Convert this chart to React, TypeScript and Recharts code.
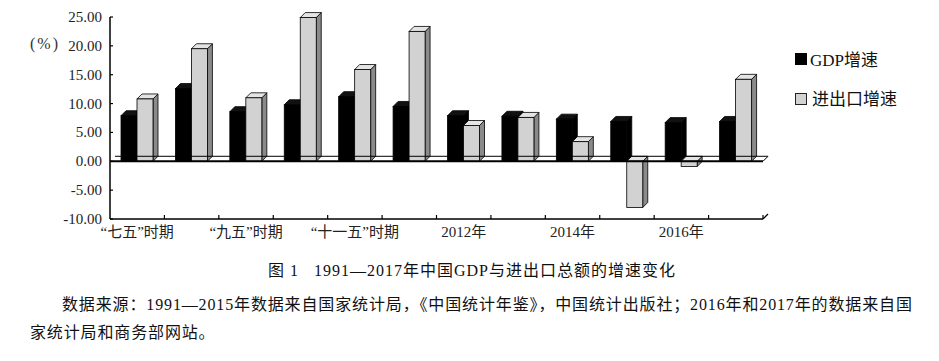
import React from 'react';
import { BarChart, Bar, XAxis, YAxis, ReferenceLine } from 'recharts';

const categories = ['“七五”时期', '“八五”时期', '“九五”时期', '“十五”时期', '“十一五”时期', '2011年', '2012年', '2013年', '2014年', '2015年', '2016年', '2017年'];
const gdpGrowth = [7.9, 12.6, 8.6, 9.8, 11.2, 9.5, 7.9, 7.8, 7.3, 6.9, 6.7, 6.9];
const tradeGrowth = [10.8, 19.5, 11.0, 24.9, 15.9, 22.5, 6.2, 7.6, 3.4, -8.0, -0.9, 14.2];
const yTicks = [-10, -5, 0, 5, 10, 15, 20, 25];
const seriesNames = ['GDP增速', '进出口增速'];

const data = categories.map((c, i) => ({ category: c, gdp: gdpGrowth[i], trade: tradeGrowth[i] }));

const W = 939;
const CHART_H = 250;
const MARGIN = { top: 17, right: 176, left: 50, bottom: 11 };
const Y_AXIS_W = 60;
const PLOT_W = W - MARGIN.left - MARGIN.right - Y_AXIS_W;
const BAND = PLOT_W / categories.length;
const DEPTH = 5;
const FONT = '"Liberation Serif", "Times New Roman", "Noto Sans CJK SC", serif';

function Bar3D(props: any) {
  let { x, y, width, height } = props;
  const { face, top, side } = props;
  if (width == null || height == null) return null;
  if (height < 0) {
    y = y + height;
    height = -height;
  }
  const d = DEPTH;
  const topPts = `${x},${y} ${x + d},${y - d} ${x + width + d},${y - d} ${x + width},${y}`;
  const sidePts = `${x + width},${y} ${x + width + d},${y - d} ${x + width + d},${y + height - d} ${x + width},${y + height}`;
  return (
    <g>
      <polygon points={sidePts} fill={side} stroke="#000" strokeWidth={0.8} strokeLinejoin="round" />
      <polygon points={topPts} fill={top} stroke="#000" strokeWidth={0.8} strokeLinejoin="round" />
      <rect x={x} y={y} width={width} height={height} fill={face} stroke="#000" strokeWidth={0.8} />
    </g>
  );
}

function XTick(props: any) {
  const { x, y, payload, index } = props;
  const half = BAND / 2;
  return (
    <g>
      <line x1={x + half} y1={y - 4} x2={x + half} y2={y} stroke="#000" strokeWidth={1.2} />
      {index % 2 === 0 ? (
        <text x={x} y={y + 18} textAnchor="middle" fontSize={15} fontFamily={FONT} fill="#222">
          {payload.value}
        </text>
      ) : null}
    </g>
  );
}

function YTick(props: any) {
  const { x, y, payload } = props;
  return (
    <g>
      <line x1={x + 8} y1={y} x2={x + 11} y2={y} stroke="#000" strokeWidth={1.2} />
      <text x={x} y={y + 5} textAnchor="end" fontSize={15} fontFamily={FONT} fill="#222">
        {Number(payload.value).toFixed(2)}
      </text>
    </g>
  );
}

function FloorShape(props: any) {
  const { x1, y1, x2, y2 } = props;
  const d = DEPTH;
  return (
    <g>
      <line x1={x1 + d} y1={y1 - d} x2={x2 + d} y2={y2 - d} stroke="#000" strokeWidth={1} />
      <line x1={x2} y1={y2} x2={x2 + d} y2={y2 - d} stroke="#000" strokeWidth={1} />
      <line x1={x1} y1={y1} x2={x2} y2={y2} stroke="#000" strokeWidth={2} />
    </g>
  );
}

function BottomEnd(props: any) {
  const { x2, y2 } = props;
  const d = DEPTH;
  return <line x1={x2} y1={y2} x2={x2 + d} y2={y2 - d} stroke="#000" strokeWidth={1.2} />;
}

export default function App() {
  return (
    <div style={{ position: 'absolute', left: 0, top: 0, width: W, height: 361, background: '#fff', overflow: 'hidden' }}>
      <BarChart
        width={W}
        height={CHART_H}
        data={data}
        margin={MARGIN}
        barGap={0}
        barSize={16}
      >
        <XAxis
          dataKey="category"
          interval={0}
          tick={<XTick />}
          tickLine={false}
          tickSize={0}
          tickMargin={0}
          height={20}
          axisLine={{ stroke: '#000', strokeWidth: 1.5 }}
        />
        <YAxis
          domain={[-10, 25]}
          ticks={yTicks}
          interval={0}
          width={Y_AXIS_W}
          tick={<YTick />}
          tickLine={false}
          tickSize={0}
          tickMargin={8}
          axisLine={{ stroke: '#000', strokeWidth: 1.5 }}
        />
        <ReferenceLine y={0} shape={(p: any) => <FloorShape {...p} />} />
        <ReferenceLine y={-10} shape={(p: any) => <BottomEnd {...p} />} />
        <Bar
          dataKey="gdp"
          name={seriesNames[0]}
          isAnimationActive={false}
          shape={(p: any) => <Bar3D {...p} face="#000" top="#111" side="#000" />}
        />
        <Bar
          dataKey="trade"
          name={seriesNames[1]}
          isAnimationActive={false}
          shape={(p: any) => <Bar3D {...p} face="#d2d2d2" top="#e4e4e4" side="#8a8a8a" />}
        />
      </BarChart>

      <div style={{ position: 'absolute', left: 30, top: 35, fontFamily: FONT, fontSize: 16, color: '#333', letterSpacing: 2 }}>
        (%)
      </div>

      <div style={{ position: 'absolute', left: 795, top: 53, width: 12, height: 12, background: '#000' }} />
      <div style={{ position: 'absolute', left: 810, top: 49, fontFamily: FONT, fontSize: 17, color: '#111', lineHeight: '24px' }}>
        {seriesNames[0]}
      </div>
      <div style={{ position: 'absolute', left: 795, top: 93, width: 10, height: 10, background: '#d2d2d2', border: '1.5px solid #222' }} />
      <div style={{ position: 'absolute', left: 812, top: 88, fontFamily: FONT, fontSize: 17, color: '#111', lineHeight: '24px' }}>
        {seriesNames[1]}
      </div>

      <div style={{ position: 'absolute', left: 268, top: 260, whiteSpace: 'nowrap', fontFamily: FONT, fontSize: 16, color: '#111', lineHeight: '22px', letterSpacing: 1.0 }}>
        图 1&nbsp;&nbsp;&nbsp;1991—2017年中国GDP与进出口总额的增速变化
      </div>
      <div style={{ position: 'absolute', left: 62, top: 294, whiteSpace: 'nowrap', fontFamily: FONT, fontSize: 16, color: '#111', lineHeight: '22px', letterSpacing: 0.86 }}>
        数据来源：1991—2015年数据来自国家统计局，《中国统计年鉴》，中国统计出版社；2016年和2017年的数据来自国
      </div>
      <div style={{ position: 'absolute', left: 30, top: 322, whiteSpace: 'nowrap', fontFamily: FONT, fontSize: 16, color: '#111', lineHeight: '22px', letterSpacing: 0.86 }}>
        家统计局和商务部网站。
      </div>
    </div>
  );
}
